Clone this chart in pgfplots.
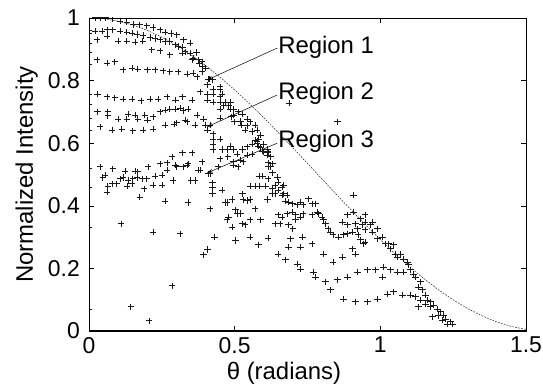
\documentclass[border=0pt]{standalone}
\usepackage{pgfplots}
\pgfplotsset{compat=1.18}
\usepackage{fontspec}
\setmainfont{Liberation Sans}
\usetikzlibrary{arrows.meta}
\begin{document}
\begin{tikzpicture}
\begin{axis}[
  width=437bp, height=313bp, scale only axis,
  xmin=0, xmax=1.5, ymin=0, ymax=1,
  xtick={0,0.5,1,1.5}, xticklabels={0,0.5,1,1.5},
  ytick={0,0.2,0.4,0.6,0.8,1}, yticklabels={0,0.2,0.4,0.6,0.8,1},
  tick align=inside, major tick length=5bp,
  tick style={black, line width=0.6pt},
  ticklabel style={font=\fontsize{23}{27}\selectfont, inner sep=0pt},
  xticklabel style={yshift=-6bp},
  yticklabel style={xshift=-9bp},
  axis line style={line width=0.6pt},
  clip marker paths=true,
]
\addplot[black!85, line width=0.5pt, dash pattern=on 1.8pt off 1.2pt] coordinates {
(0,1) (0.05,0.9975) (0.1,0.990) (0.15,0.9777) (0.2,0.9605) (0.25,0.9388)
(0.3,0.9127) (0.35,0.8824) (0.4,0.8484) (0.45,0.8108) (0.5,0.7702)
(0.55,0.7268) (0.6,0.6812) (0.65,0.6337) (0.7,0.5850) (0.75,0.5354)
(0.8,0.4854) (0.85,0.4356) (0.9,0.3864) (0.95,0.3384) (1.0,0.2919)
(1.05,0.2476) (1.1,0.2058) (1.15,0.1669) (1.2,0.1313) (1.25,0.0994)
(1.3,0.0716) (1.35,0.0480) (1.4,0.0289) (1.45,0.0145) (1.5,0.0050)
};
\addplot[only marks, mark=+, mark size=3.3bp, mark options={line width=1pt, black!90}] table {
x y
0 0.96
0 0.95
0 0.92
0 0.89
0 0.85
0 0.757
0 0.725
0 0.68
0 0.64
0 0.52
0 0.457
0 0.33
0 0.07
0.021 1.0
0.04 1.0
0.058 1.0
0.079 0.998
0.107 0.99
0.13 0.987
0.153 0.98
0.175 0.978
0.199 0.975
0.22 0.97
0.244 0.962
0.261 0.955
0.282 0.95
0.302 0.946
0.325 0.93
0.347 0.92
0.368 0.89
0.388 0.86
0.41 0.805
0.021 0.958
0.045 0.958
0.062 0.962
0.082 0.962
0.107 0.958
0.13 0.955
0.148 0.952
0.165 0.948
0.186 0.945
0.21 0.938
0.227 0.935
0.244 0.93
0.261 0.924
0.278 0.924
0.296 0.914
0.306 0.908
0.32 0.905
0.33 0.892
0.347 0.888
0.357 0.872
0.375 0.866
0.388 0.844
0.40 0.84
0.028 0.93
0.062 0.942
0.10 0.926
0.13 0.926
0.158 0.923
0.185 0.926
0.216 0.898
0.244 0.895
0.278 0.882
0.32 0.888
0.354 0.866
0.38 0.856
0.028 0.866
0.062 0.856
0.089 0.86
0.117 0.834
0.148 0.84
0.168 0.837
0.20 0.834
0.227 0.834
0.254 0.831
0.278 0.828
0.306 0.828
0.337 0.821
0.357 0.824
0.371 0.812
0.388 0.828
0.03 0.757
0.062 0.748
0.089 0.745
0.117 0.741
0.148 0.741
0.179 0.735
0.21 0.741
0.237 0.741
0.268 0.748
0.296 0.738
0.32 0.748
0.354 0.738
0.03 0.70
0.065 0.70
0.065 0.687
0.10 0.677
0.13 0.677
0.134 0.693
0.158 0.69
0.168 0.677
0.192 0.69
0.20 0.674
0.22 0.684
0.244 0.70
0.261 0.706
0.278 0.709
0.296 0.709
0.313 0.712
0.34 0.709
0.371 0.69
0.038 0.652
0.079 0.642
0.113 0.645
0.151 0.639
0.186 0.642
0.22 0.645
0.261 0.658
0.292 0.661
0.302 0.665
0.337 0.668
0.364 0.658
0.038 0.524
0.082 0.518
0.124 0.511
0.158 0.511
0.203 0.524
0.244 0.534
0.268 0.537
0.285 0.556
0.296 0.53
0.32 0.569
0.354 0.569
0.048 0.49
0.055 0.498
0.065 0.463
0.079 0.47
0.096 0.47
0.107 0.486
0.117 0.49
0.131 0.463
0.134 0.48
0.148 0.47
0.151 0.486
0.165 0.49
0.168 0.508
0.182 0.486
0.199 0.486
0.189 0.454
0.22 0.466
0.227 0.495
0.251 0.498
0.251 0.466
0.268 0.514
0.289 0.48
0.302 0.524
0.323 0.524
0.337 0.53
0.34 0.534
0.381 0.514
0.375 0.514
0.388 0.54
0.409 0.502
0.062 0.444
0.175 0.428
0.261 0.415
0.11 0.342
0.22 0.316
0.313 0.31
0.43 0.30
0.285 0.144
0.144 0.077
0.206 0.032
0.392 0.243
0.406 0.26
0.412 0.805
0.423 0.802
0.406 0.786
0.426 0.773
0.45 0.78
0.381 0.764
0.406 0.757
0.426 0.757
0.457 0.757
0.45 0.77
0.45 0.748
0.406 0.738
0.426 0.731
0.45 0.731
0.467 0.731
0.485 0.731
0.463 0.72
0.478 0.72
0.45 0.709
0.485 0.709
0.495 0.709
0.495 0.69
0.512 0.70
0.519 0.67
0.526 0.693
0.543 0.677
0.543 0.655
0.553 0.668
0.56 0.638
0.57 0.658
0.577 0.642
0.577 0.607
0.588 0.626
0.581 0.613
0.581 0.591
0.598 0.597
0.595 0.575
0.612 0.58
0.615 0.572
0.615 0.537
0.629 0.534
0.622 0.524
0.629 0.505
0.639 0.466
0.649 0.45
0.663 0.434
0.674 0.415
0.323 0.705
0.33 0.674
0.364 0.658
0.392 0.677
0.399 0.658
0.416 0.658
0.406 0.642
0.45 0.68
0.49 0.684
0.50 0.668
0.522 0.658
0.536 0.642
0.426 0.63
0.426 0.613
0.426 0.597
0.426 0.58
0.45 0.613
0.457 0.58
0.474 0.58
0.485 0.591
0.495 0.58
0.508 0.565
0.526 0.58
0.543 0.588
0.56 0.597
0.57 0.61
0.577 0.60
0.588 0.585
0.612 0.569
0.622 0.556
0.45 0.55
0.477 0.556
0.495 0.54
0.519 0.546
0.529 0.54
0.543 0.562
0.56 0.565
0.598 0.572
0.612 0.562
0.443 0.524
0.495 0.53
0.512 0.524
0.615 0.524
0.35 0.48
0.364 0.48
0.416 0.502
0.423 0.473
0.423 0.46
0.423 0.44
0.34 0.41
0.416 0.39
0.457 0.45
0.467 0.41
0.474 0.41
0.491 0.42
0.502 0.387
0.509 0.375
0.478 0.364
0.474 0.355
0.491 0.332
0.519 0.375
0.526 0.438
0.529 0.419
0.543 0.416
0.553 0.42
0.57 0.39
0.526 0.342
0.536 0.339
0.553 0.355
0.588 0.355
0.502 0.29
0.553 0.30
0.581 0.275
0.615 0.297
0.612 0.42
0.584 0.495
0.595 0.495
0.615 0.486
0.553 0.463
0.57 0.463
0.584 0.463
0.605 0.463
0.629 0.454
0.629 0.438
0.667 0.466
0.646 0.492
0.649 0.476
0.663 0.46
0.667 0.438
0.68 0.434
0.684 0.412
0.698 0.406
0.715 0.403
0.725 0.412
0.735 0.403
0.753 0.422
0.766 0.406
0.777 0.406
0.784 0.38
0.787 0.374
0.80 0.364
0.804 0.355
0.811 0.342
0.821 0.326
0.828 0.316
0.838 0.307
0.856 0.30
0.873 0.307
0.887 0.31
0.904 0.316
0.921 0.326
0.938 0.339
0.948 0.323
0.639 0.438
0.649 0.371
0.663 0.364
0.68 0.374
0.698 0.38
0.708 0.371
0.725 0.364
0.735 0.374
0.766 0.371
0.708 0.355
0.639 0.342
0.656 0.342
0.684 0.339
0.70 0.326
0.732 0.30
0.691 0.294
0.684 0.268
0.725 0.268
0.766 0.278
0.804 0.246
0.838 0.22
0.87 0.236
0.904 0.262
0.914 0.246
0.942 0.278
0.87 0.348
0.887 0.339
0.914 0.342
0.924 0.307
0.931 0.291
0.948 0.284
0.649 0.246
0.674 0.227
0.715 0.214
0.725 0.198
0.77 0.188
0.777 0.172
0.811 0.157
0.828 0.131
0.852 0.163
0.887 0.172
0.921 0.188
0.955 0.195
0.873 0.102
0.914 0.093
0.955 0.093
0.907 0.434
0.887 0.371
0.907 0.38
0.931 0.358
0.948 0.371
0.948 0.348
0.966 0.339
0.973 0.348
0.99 0.326
0.973 0.316
0.99 0.294
1.007 0.30
1.017 0.278
1.027 0.278
1.045 0.275
1.034 0.262
1.052 0.246
1.069 0.246
1.058 0.236
1.079 0.23
1.093 0.22
1.096 0.211
1.103 0.195
1.113 0.182
1.12 0.172
1.137 0.157
1.131 0.14
1.144 0.131
1.155 0.115
1.162 0.099
1.172 0.093
1.182 0.083
1.196 0.07
1.206 0.061
1.216 0.051
1.223 0.038
1.241 0.029
1.23 0.022
1.247 0.022
0.983 0.195
1.01 0.204
1.034 0.195
1.058 0.188
1.079 0.188
1.007 0.172
0.99 0.102
1.024 0.118
1.045 0.125
1.076 0.115
1.103 0.115
1.12 0.109
1.137 0.099
1.131 0.077
1.155 0.086
1.172 0.077
1.179 0.045
1.20 0.05
1.213 0.035
0.687 0.728
0.852 0.668
};
\draw[line width=1.6pt] (rel axis cs:0,0) -- (rel axis cs:1,0);
\draw[line width=1.1pt] (rel axis cs:0,0) -- (rel axis cs:0,1);
\draw[line width=0.9pt] (rel axis cs:0,1) -- (rel axis cs:1,1);
\draw[line width=0.5pt, -{Stealth[length=6pt,width=3.5pt]}] (axis cs:0.646,0.904) -- (axis cs:0.405,0.802);
\draw[line width=0.5pt, -{Stealth[length=6pt,width=3.5pt]}] (axis cs:0.646,0.754) -- (axis cs:0.405,0.652);
\draw[line width=0.5pt, -{Stealth[length=6pt,width=3.5pt]}] (axis cs:0.646,0.600) -- (axis cs:0.405,0.505);
\node[anchor=west, inner sep=0pt, font=\fontsize{24}{28}\selectfont] at (axis cs:0.649,0.907) {Region 1};
\node[anchor=west, inner sep=0pt, font=\fontsize{24}{28}\selectfont] at (axis cs:0.649,0.760) {Region 2};
\node[anchor=west, inner sep=0pt, font=\fontsize{24}{28}\selectfont] at (axis cs:0.649,0.607) {Region 3};
\end{axis}
\node[anchor=north, inner sep=0pt, font=\fontsize{24}{28}\selectfont] at ([xshift=195bp,yshift=-31bp]current axis.south west) {θ (radians)};
\node[rotate=90, anchor=south, inner sep=0pt, font=\fontsize{24}{28}\selectfont] at ([xshift=-51bp]current axis.west) {Normalized Intensity};
\path ([xshift=-89bp,yshift=-54bp]current axis.south west) rectangle ([xshift=17bp,yshift=18bp]current axis.north east);
\end{tikzpicture}
\end{document}
